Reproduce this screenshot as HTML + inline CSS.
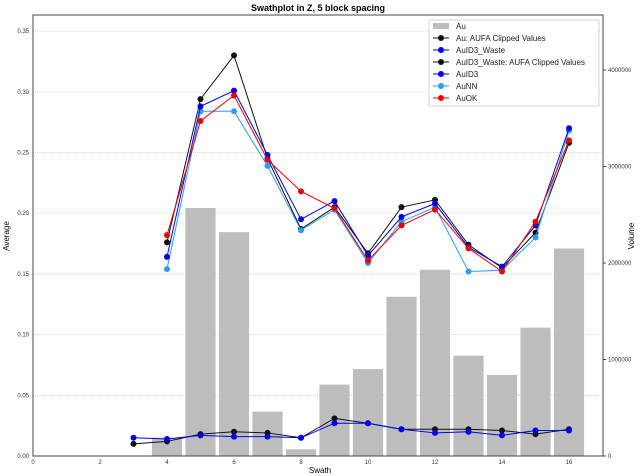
<!DOCTYPE html>
<html><head><meta charset="utf-8"><style>
html,body{margin:0;padding:0;background:#fff;}
svg{display:block;font-family:"Liberation Sans",Arial,sans-serif;}
</style></head><body>
<svg id="chart" width="643" height="476">
<text x="318" y="11" text-anchor="middle" font-size="9" font-weight="bold">Swathplot in Z, 5 block spacing</text>
<g id="grid"></g><g id="bars"></g><g id="lines"></g><g id="axes"></g>
<rect x="33" y="15" width="570" height="441" fill="none" stroke="#444" stroke-width="1"/>
<text x="320" y="473" text-anchor="middle" font-size="8">Swath</text>
<text transform="translate(9,236) rotate(-90)" text-anchor="middle" font-size="8">Average</text>
<text transform="translate(634,236) rotate(-90)" text-anchor="middle" font-size="8">Volume</text>
<g id="legend"></g>
</svg>
<script>
const swaths=[3,4,5,6,7,8,9,10,11,12,13,14,15,16];
const barSwaths=[4,5,6,7,8,9,10,11,12,13,14,15,16];
const volume=[190000,2570000,2320000,460000,70000,740000,900000,1650000,1930000,1040000,840000,1330000,2150000];
const topSwaths=[4,5,6,7,8,9,10,11,12,13,14,15,16];
const auClipped=[0.176,0.294,0.330,0.245,0.187,0.205,0.167,0.205,0.211,0.174,0.155,0.184,0.258];
const auID3=[0.164,0.288,0.301,0.248,0.195,0.210,0.165,0.197,0.208,0.172,0.156,0.190,0.270];
const auNN=[0.154,0.284,0.284,0.239,0.186,0.203,0.159,0.193,0.205,0.152,0.153,0.180,0.268];
const auOK=[0.182,0.276,0.297,0.244,0.218,0.204,0.161,0.190,0.203,0.171,0.152,0.193,0.260];
const wasteID3=[0.015,0.014,0.017,0.016,0.016,0.015,0.027,0.027,0.022,0.019,0.020,0.017,0.021,0.021];
const wasteClipped=[0.010,0.012,0.018,0.020,0.019,0.015,0.031,0.027,0.022,0.022,0.022,0.021,0.018,0.022];
const xTicks=[0,2,4,6,8,10,12,14,16];
const yTicks=[0,0.05,0.10,0.15,0.20,0.25,0.30,0.35];
const y2Ticks=[0,1000000,2000000,3000000,4000000];
const NS="http://www.w3.org/2000/svg";
const X0=33,XR=603,YB=456,YT=15,XMAX=(XR-X0)/33.5,YMAX=0.3633,Y2MAX=(YB-YT)/96.5*1e6;
const xs=v=>X0+v/XMAX*(XR-X0), ys=v=>YB-v/YMAX*(YB-YT), y2s=v=>YB-v/Y2MAX*(YB-YT);
function mk(t,a,p){const e=document.createElementNS(NS,t);for(const k in a)e.setAttribute(k,a[k]);(p||document.getElementById('chart')).appendChild(e);return e;}
const grid=document.getElementById('grid'),axes=document.getElementById('axes'),bars=document.getElementById('bars'),lines=document.getElementById('lines');
yTicks.forEach(v=>{
 if(v>0){const g=mk('line',{x1:X0,x2:XR,y1:ys(v),y2:ys(v),stroke:'#ccc','stroke-dasharray':'1,1','stroke-width':0.8},grid);
 
 }
 const t=mk('text',{x:X0-4,y:ys(v)+2,'text-anchor':'end','font-size':6,fill:'#333'},axes);t.textContent=v.toFixed(2);
 
 
});
xTicks.forEach(v=>{const t=mk('text',{x:xs(v),y:YB+8,'text-anchor':'middle','font-size':6,fill:'#333'},axes);t.textContent=v;
 
 });
y2Ticks.forEach(v=>{mk('line',{x1:XR,x2:XR+3,y1:y2s(v),y2:y2s(v),stroke:'#444'},axes);
 const t=mk('text',{x:XR+5,y:y2s(v)+2,'font-size':6,fill:'#333'},axes);t.textContent=v;
 
 });
barSwaths.forEach((s,i)=>{const w=(xs(0.9)-xs(0));const r=mk('rect',{x:xs(s)-w/2,y:y2s(volume[i]),width:w,height:YB-y2s(volume[i]),fill:'#bdbdbd'},bars);
 
 });
function series(xv,yv,color,name){const g=mk('g',{},lines);
 
 
 mk('polyline',{points:xv.map((x,i)=>xs(x)+','+ys(yv[i])).join(' '),fill:'none',stroke:color,'stroke-width':1},g);
 xv.forEach((x,i)=>mk('circle',{cx:xs(x),cy:ys(yv[i]),r:3,fill:color},g));}
series(swaths,wasteClipped,'#111','auid3-waste-clipped-line');
series(swaths,wasteID3,'#0000ee','auid3-waste-line');
series(topSwaths,auClipped,'#111','au-clipped-line');
series(topSwaths,auNN,'#2a9df4','aunn-line');
series(topSwaths,auID3,'#0000ee','auid3-line');
series(topSwaths,auOK,'#ee0000','auok-line');
const leg=document.getElementById('legend');
mk('rect',{x:429,y:20,width:170,height:86,fill:'#fff',stroke:'#ccc','stroke-width':0.8},leg);
const legNames=['Au','Au: AUFA Clipped Values','AuID3_Waste','AuID3_Waste: AUFA Clipped Values','AuID3','AuNN','AuOK'];
const legColors=['#bdbdbd','#111','#0000ee','#111','#0000ee','#2a9df4','#ee0000'];
legNames.forEach((n,i)=>{const y=26+i*12;
 if(i===0)mk('rect',{x:433,y:y-3,width:16,height:6,fill:legColors[i]},leg);
 else{mk('line',{x1:433,x2:449,y1:y,y2:y,stroke:legColors[i]},leg);mk('circle',{cx:441,cy:y,r:3,fill:legColors[i]},leg);}
 const t=mk('text',{x:456,y:y+3,'font-size':8,fill:'#222'},leg);t.textContent=n;
 
 });
</script>
</body></html>
